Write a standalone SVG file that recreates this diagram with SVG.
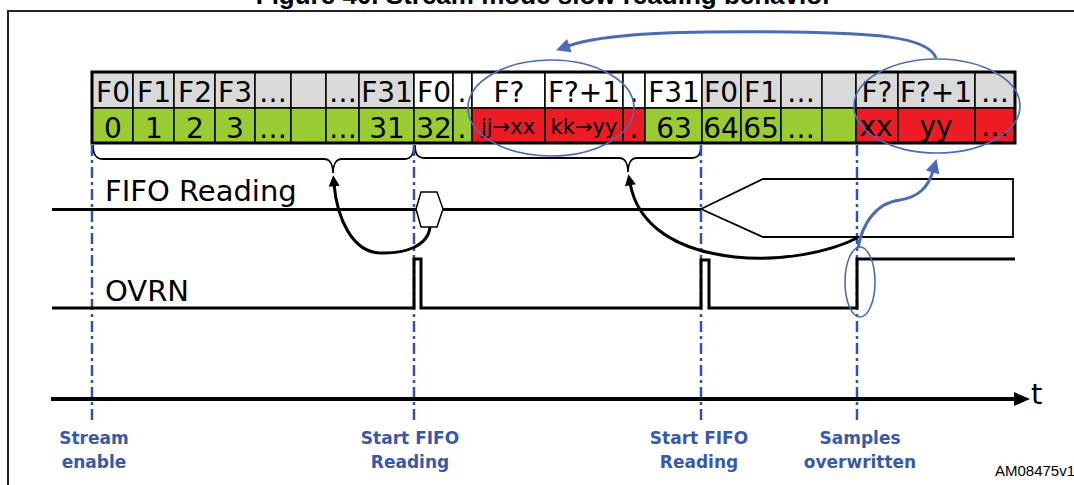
<svg xmlns="http://www.w3.org/2000/svg" width="1074" height="485" viewBox="0 0 1074 485">
<style>
.cell{stroke:#000;stroke-width:1.5}
.g{fill:#D9D9D9}.w{fill:#FFFFFF}.gr{fill:#99CC33}.r{fill:#ED1C24}
.t{font-family:"DejaVu Sans",Verdana,sans-serif;font-size:28px;fill:#000;text-anchor:middle}
.ts{font-family:"DejaVu Sans",Verdana,sans-serif;font-size:21px;fill:#000;text-anchor:middle}
.sig{fill:none;stroke:#000;stroke-width:3}
.thin{fill:none;stroke:#000;stroke-width:1.8}
.vline{stroke:#3352A8;stroke-width:2.5;stroke-dasharray:11 4 3 4;fill:none}
.lbl{font-family:"DejaVu Sans",Verdana,sans-serif;font-size:17px;font-weight:bold;fill:#3A58A8;text-anchor:middle}
.ell{fill:none;stroke:#4A6BB5;stroke-width:1.6}
.barrow{fill:none;stroke:#4A6BB5;stroke-width:3}
.karrow{fill:none;stroke:#000;stroke-width:3}
.lab{font-family:"DejaVu Sans",Verdana,sans-serif;font-size:29px;fill:#000}
</style>
<defs>
<marker id="ak" viewBox="0 0 10 10" refX="2" refY="5" markerUnits="userSpaceOnUse" markerWidth="12" markerHeight="11" orient="auto"><path d="M0,0 L10,5 L0,10 z" fill="#000"/></marker>
<marker id="ab" viewBox="0 0 10 10" refX="1" refY="5" markerUnits="userSpaceOnUse" markerWidth="16" markerHeight="14" orient="auto"><path d="M0,0 L10,5 L0,10 z" fill="#4A6BB5"/></marker>
</defs>

<g id="title"><text x="544" y="4" font-family="'Liberation Sans',Arial,sans-serif" font-size="26" font-weight="bold" text-anchor="middle">Figure 40. Stream mode slow reading behavior</text></g>
<g id="frame"><path d="M8,485 V11 H1074" fill="none" stroke="#222" stroke-width="2"/></g>

<g id="table">
<rect class="cell g" x="92" y="72" width="41" height="36"/>
<rect class="cell g" x="133" y="72" width="41" height="36"/>
<rect class="cell g" x="174" y="72" width="41" height="36"/>
<rect class="cell g" x="215" y="72" width="40" height="36"/>
<rect class="cell g" x="255" y="72" width="36" height="36"/>
<rect class="cell g" x="291" y="72" width="35" height="36"/>
<rect class="cell g" x="326" y="72" width="33" height="36"/>
<rect class="cell g" x="359" y="72" width="55" height="36"/>
<rect class="cell w" x="414" y="72" width="39" height="36"/>
<rect class="cell w" x="453" y="72" width="19" height="36"/>
<rect class="cell w" x="472" y="72" width="73" height="36"/>
<rect class="cell w" x="545" y="72" width="78" height="36"/>
<rect class="cell w" x="623" y="72" width="22" height="36"/>
<rect class="cell w" x="645" y="72" width="57" height="36"/>
<rect class="cell g" x="702" y="72" width="39" height="36"/>
<rect class="cell g" x="741" y="72" width="40" height="36"/>
<rect class="cell g" x="781" y="72" width="41" height="36"/>
<rect class="cell g" x="822" y="72" width="34" height="36"/>
<rect class="cell g" x="856" y="72" width="42" height="36"/>
<rect class="cell g" x="898" y="72" width="77" height="36"/>
<rect class="cell g" x="975" y="72" width="40" height="36"/>

<rect class="cell gr" x="92" y="108" width="41" height="35"/>
<rect class="cell gr" x="133" y="108" width="41" height="35"/>
<rect class="cell gr" x="174" y="108" width="41" height="35"/>
<rect class="cell gr" x="215" y="108" width="40" height="35"/>
<rect class="cell gr" x="255" y="108" width="36" height="35"/>
<rect class="cell gr" x="291" y="108" width="35" height="35"/>
<rect class="cell gr" x="326" y="108" width="33" height="35"/>
<rect class="cell gr" x="359" y="108" width="55" height="35"/>
<rect class="cell gr" x="414" y="108" width="39" height="35"/>
<rect class="cell gr" x="453" y="108" width="19" height="35"/>
<rect class="cell r" x="472" y="108" width="73" height="35"/>
<rect class="cell r" x="545" y="108" width="78" height="35"/>
<rect class="cell r" x="623" y="108" width="22" height="35"/>
<rect class="cell gr" x="645" y="108" width="57" height="35"/>
<rect class="cell gr" x="702" y="108" width="39" height="35"/>
<rect class="cell gr" x="741" y="108" width="40" height="35"/>
<rect class="cell gr" x="781" y="108" width="41" height="35"/>
<rect class="cell gr" x="822" y="108" width="34" height="35"/>
<rect class="cell r" x="856" y="108" width="42" height="35"/>
<rect class="cell r" x="898" y="108" width="77" height="35"/>
<rect class="cell r" x="975" y="108" width="40" height="35"/>
<rect x="92" y="72" width="923" height="71" fill="none" stroke="#000" stroke-width="3"/>

<text class="t" x="113" y="102">F0</text>
<text class="t" x="154" y="102">F1</text>
<text class="t" x="195" y="102">F2</text>
<text class="t" x="235" y="102">F3</text>
<text class="t" x="273" y="102">…</text>
<text class="t" x="343" y="102">…</text>
<text class="t" x="387" y="102">F31</text>
<text class="t" x="434" y="102">F0</text>
<text class="t" x="462" y="102">.</text>
<text class="t" x="509" y="102">F?</text>
<text class="t" x="584" y="102">F?+1</text>
<text class="t" x="634" y="102">.</text>
<text class="t" x="674" y="102">F31</text>
<text class="t" x="721" y="102">F0</text>
<text class="t" x="761" y="102">F1</text>
<text class="t" x="801" y="102">…</text>
<text class="t" x="877" y="102">F?</text>
<text class="t" x="936" y="102">F?+1</text>
<text class="t" x="995" y="102">…</text>

<text class="t" x="113" y="138">0</text>
<text class="t" x="154" y="138">1</text>
<text class="t" x="195" y="138">2</text>
<text class="t" x="235" y="138">3</text>
<text class="t" x="273" y="138">…</text>
<text class="t" x="343" y="138">…</text>
<text class="t" x="387" y="138">31</text>
<text class="t" x="434" y="138">32</text>
<text class="t" x="462" y="138">.</text>
<text class="ts" x="508" y="134">jj→xx</text>
<text class="ts" x="584" y="134">kk→yy</text>
<text class="t" x="634" y="138">.</text>
<text class="t" x="674" y="138">63</text>
<text class="t" x="721" y="138">64</text>
<text class="t" x="761" y="138">65</text>
<text class="t" x="801" y="138">…</text>
<text class="t" x="876" y="136">xx</text>
<text class="t" x="936" y="136">yy</text>
<text class="t" x="995" y="136">…</text>
</g>

<g id="braces">
<path class="thin" d="M93,145 C93,155 96,159 103,159 H324 C330,159 333,165 333,173 C333,165 336,159 342,159 H404 C411,159 414,155 414,145"/>
<path class="thin" d="M415,145 C415,155 418,158 425,158 H619 C625,158 628,164 628,172 C628,164 631,158 637,158 H691 C698,158 701,155 701,145"/>
</g>

<g id="guides">
<line class="vline" x1="92" y1="145" x2="92" y2="421"/>
<line class="vline" x1="414" y1="145" x2="414" y2="421"/>
<line class="vline" x1="701" y1="145" x2="701" y2="421"/>
<line class="vline" x1="857" y1="145" x2="857" y2="421"/>
</g>

<g id="fifo-reading">
<text class="lab" x="105" y="201">FIFO Reading</text>
<path class="sig" d="M52,209.5 H416"/>
<polygon points="416,209 421,192 437,192 443,209 437,227 421,227" fill="#fff" stroke="#000" stroke-width="1.5"/>
<path class="sig" d="M443,209.5 H701"/>
<path class="thin" d="M701,209 L763,179 H1013 V237 H763 Z"/>
</g>

<g id="ovrn">
<text class="lab" x="105" y="301">OVRN</text>
<path class="sig" d="M52,308 H414 V259 H421 V308 H701 V260 H709 V308 H857 V259 H1015"/>
</g>

<g id="time-axis">
<line x1="51" y1="399" x2="1016" y2="399" stroke="#000" stroke-width="4"/>
<polygon points="1014,392 1030,399 1014,406" fill="#000"/>
<text class="lab" x="1031" y="404" font-size="27">t</text>
</g>

<g id="labels">
<text class="lbl" x="94" y="444">Stream</text>
<text class="lbl" x="94" y="468">enable</text>
<text class="lbl" x="410" y="444">Start FIFO</text>
<text class="lbl" x="410" y="468">Reading</text>
<text class="lbl" x="699" y="444">Start FIFO</text>
<text class="lbl" x="699" y="468">Reading</text>
<text class="lbl" x="860" y="444">Samples</text>
<text class="lbl" x="860" y="468">overwritten</text>
<text x="995" y="476" font-family="'Liberation Sans',Arial,sans-serif" font-size="15" fill="#000">AM08475v1</text>
</g>

<g id="highlights">
<ellipse class="ell" cx="551" cy="108" rx="83" ry="48"/>
<ellipse class="ell" cx="937" cy="106" rx="83" ry="47"/>
<ellipse class="ell" cx="860" cy="282" rx="15" ry="35"/>
</g>

<g id="connectors">
<path class="karrow" d="M430,227 C428,246 405,254 380,253 C352,252 337,218 334,184" marker-end="url(#ak)"/>
<path class="karrow" d="M857,238 C830,252 780,262 735,257 C680,251 638,228 630,183" marker-end="url(#ak)"/>
<path class="barrow" d="M858,248 C862,225 875,203 900,200 C918,197 928,188 933,171" marker-end="url(#ab)"/>
<path class="barrow" d="M936,58 C928,36 870,33 790,32 C680,31 605,33 568,46" marker-end="url(#ab)"/>
</g>
</svg>
